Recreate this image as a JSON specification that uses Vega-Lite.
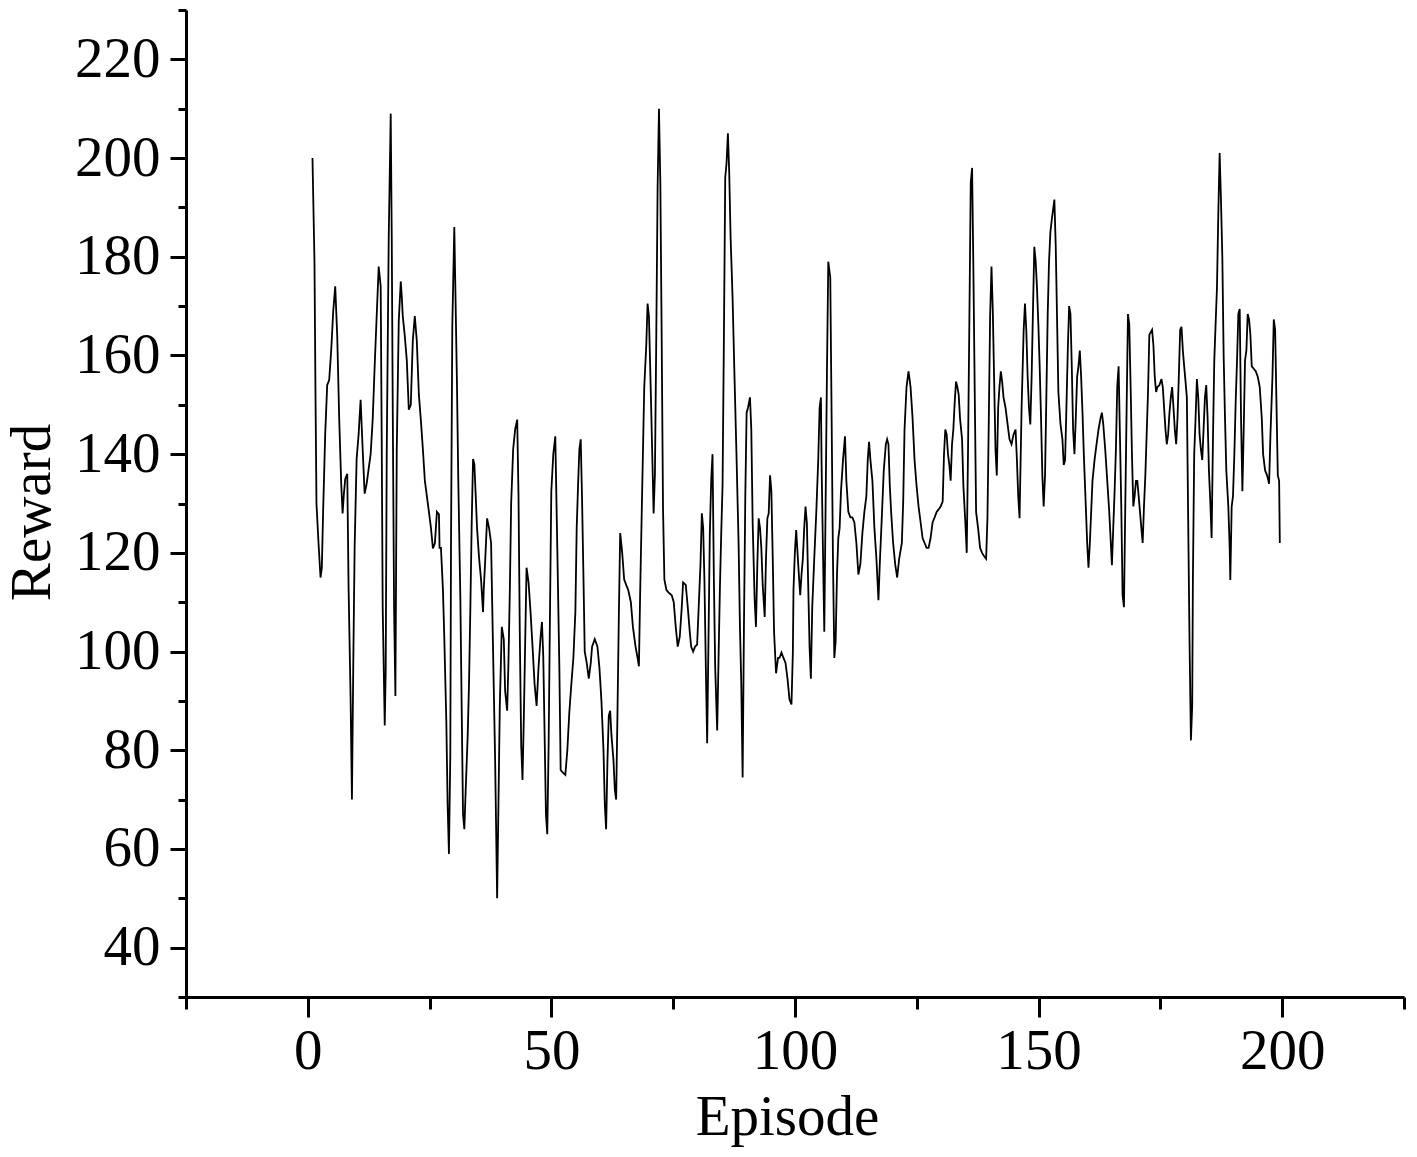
{
  "$schema": "https://vega.github.io/schema/vega-lite/v6.json",
  "width": 1218,
  "height": 987,
  "autosize": {"type": "none"},
  "padding": {"left": 186, "top": 10, "right": 13, "bottom": 160},
  "background": "white",
  "config": {
    "view": {"stroke": null},
    "axis": {
      "grid": false,
      "domainColor": "black",
      "tickColor": "black",
      "labelColor": "black",
      "titleColor": "black",
      "labelFont": "Liberation Serif",
      "titleFont": "Liberation Serif",
      "labelFontSize": 57,
      "titleFontSize": 57,
      "titleFontWeight": "normal",
      "domainWidth": 3,
      "tickWidth": 3,
      "labelOverlap": false,
      "labelFlush": false
    }
  },
  "data": {"values": [
    {"e":0.96,"r":200},{"e":1.37,"r":179},{"e":1.58,"r":152},{"e":1.78,"r":130},{"e":2.2,"r":122},{"e":2.61,"r":115},{"e":2.88,"r":117},{"e":3.16,"r":129},{"e":3.57,"r":144},{"e":3.98,"r":154},{"e":4.39,"r":155},{"e":4.8,"r":161},{"e":5.22,"r":169},{"e":5.63,"r":174},{"e":6.04,"r":164},{"e":6.45,"r":147},{"e":6.86,"r":134},{"e":7.14,"r":128},{"e":7.41,"r":132},{"e":7.69,"r":135},{"e":8.1,"r":136},{"e":8.37,"r":113},{"e":8.79,"r":90},{"e":9.06,"r":70},{"e":9.33,"r":97},{"e":9.61,"r":121},{"e":10.02,"r":139},{"e":10.43,"r":144},{"e":10.84,"r":151},{"e":11.26,"r":141},{"e":11.67,"r":132},{"e":12.08,"r":134},{"e":12.49,"r":137},{"e":12.9,"r":140},{"e":13.32,"r":147},{"e":13.73,"r":158},{"e":14.14,"r":168},{"e":14.55,"r":178},{"e":14.96,"r":174},{"e":15.17,"r":143},{"e":15.37,"r":109},{"e":15.79,"r":85},{"e":15.99,"r":96},{"e":16.2,"r":140},{"e":16.61,"r":184},{"e":17.02,"r":209},{"e":17.23,"r":184},{"e":17.43,"r":150},{"e":17.71,"r":109},{"e":17.98,"r":91},{"e":18.26,"r":141},{"e":18.67,"r":167},{"e":19.08,"r":175},{"e":19.29,"r":172},{"e":19.49,"r":168},{"e":19.9,"r":164},{"e":20.32,"r":159},{"e":20.73,"r":149},{"e":21.14,"r":150},{"e":21.55,"r":163},{"e":21.96,"r":168},{"e":22.37,"r":163},
    {"e":22.8,"r":152},{"e":23.2,"r":147},{"e":23.62,"r":141},{"e":24.03,"r":134.6},{"e":24.44,"r":131.5},{"e":24.86,"r":128.3},{"e":25.27,"r":125.1},{"e":25.68,"r":120.9},{"e":26.09,"r":122},{"e":26.5,"r":128.3},{"e":26.92,"r":127.8},{"e":27.05,"r":121},{"e":27.33,"r":121},{"e":27.74,"r":112.5},{"e":28.01,"r":103},{"e":28.43,"r":86},{"e":28.7,"r":69},{"e":28.97,"r":59},{"e":29.25,"r":79},{"e":29.39,"r":121},{"e":29.66,"r":166},{"e":30.07,"r":186},{"e":30.28,"r":174},{"e":30.62,"r":154},{"e":30.9,"r":134},{"e":31.31,"r":111},{"e":31.58,"r":89},{"e":31.86,"r":67},{"e":32.13,"r":64},{"e":32.41,"r":72},{"e":32.82,"r":83},{"e":33.09,"r":93.5},{"e":33.37,"r":109},{"e":33.64,"r":126},{"e":33.92,"r":139},{"e":34.19,"r":138},{"e":34.47,"r":131.5},{"e":34.74,"r":125},{"e":35.15,"r":119},{"e":35.56,"r":114.6},{"e":35.97,"r":108},{"e":36.11,"r":112.5},{"e":36.39,"r":118},{"e":36.8,"r":127},{"e":37.21,"r":125},{"e":37.62,"r":122},{"e":38.03,"r":100},{"e":38.45,"r":78},{"e":38.86,"r":50},{"e":39.13,"r":69},{"e":39.41,"r":89},{"e":39.82,"r":105},{"e":40.23,"r":102.5},{"e":40.5,"r":92},{"e":40.92,"r":88},{"e":41.19,"r":98},{"e":41.47,"r":112.5},{"e":41.74,"r":130},{"e":42.15,"r":141},{"e":42.56,"r":145},{"e":42.98,"r":147},{"e":43.25,"r":131.5},{"e":43.52,"r":103},{"e":43.8,"r":81},{"e":44.07,"r":74},{"e":44.35,"r":87},{"e":44.62,"r":102},{"e":44.9,"r":117},{"e":45.31,"r":114},{"e":45.72,"r":108},{"e":46.13,"r":101},{"e":46.54,"r":93.5},{"e":46.96,"r":89},
    {"e":47.37,"r":97},{"e":47.78,"r":103},{"e":48.06,"r":106},{"e":48.33,"r":99},{"e":48.61,"r":83},{"e":48.88,"r":67},{"e":49.15,"r":63},{"e":49.43,"r":81},{"e":49.7,"r":107},{"e":49.98,"r":132.5},{"e":50.39,"r":140},{"e":50.8,"r":143.6},{"e":51.21,"r":121},{"e":51.63,"r":97},{"e":51.9,"r":76},{"e":52.31,"r":75.5},{"e":52.86,"r":75},{"e":53.27,"r":80},{"e":53.68,"r":87.7},{"e":54.1,"r":93.5},{"e":54.51,"r":98.7},{"e":54.92,"r":108},{"e":55.19,"r":125},{"e":55.47,"r":133.6},{"e":55.74,"r":141},{"e":56.02,"r":143},{"e":56.29,"r":131},{"e":56.57,"r":115.6},{"e":56.84,"r":100},{"e":57.25,"r":97.7},{"e":57.67,"r":94.5},{"e":58.08,"r":97.7},{"e":58.35,"r":101},{"e":58.9,"r":102.5},{"e":59.45,"r":101},{"e":59.86,"r":96.7},{"e":60.27,"r":90},{"e":60.69,"r":80},{"e":60.96,"r":69},{"e":61.23,"r":64},{"e":61.51,"r":78},{"e":61.78,"r":87},{"e":62.06,"r":88},{"e":62.33,"r":83},{"e":62.74,"r":78},{"e":63.02,"r":72},{"e":63.29,"r":70},{"e":63.57,"r":88},{"e":63.84,"r":107},{"e":64.12,"r":124},{"e":64.53,"r":120},{"e":64.94,"r":114.6},{"e":65.35,"r":113.5},{"e":65.76,"r":112.5},{"e":66.31,"r":110},{"e":66.73,"r":105},{"e":67.27,"r":101},{"e":67.69,"r":98.7},{"e":67.96,"r":97},{"e":68.23,"r":112.5},{"e":68.65,"r":133.6},{"e":69.06,"r":153.6},{"e":69.47,"r":162},{"e":69.74,"r":170.5},{"e":70.02,"r":168},{"e":70.43,"r":151.5},{"e":70.7,"r":140},{"e":70.98,"r":128},{"e":71.25,"r":136},{"e":71.53,"r":164},{"e":71.8,"r":194},{"e":72.08,"r":210},
    {"e":72.36,"r":195},{"e":72.64,"r":163},{"e":72.91,"r":129},{"e":73.19,"r":114.6},{"e":73.6,"r":112.5},{"e":74.01,"r":112},{"e":74.7,"r":111.4},{"e":75.11,"r":110},{"e":75.52,"r":105},{"e":75.93,"r":101},{"e":76.35,"r":103},{"e":76.76,"r":109},{"e":77.03,"r":114},{"e":77.58,"r":113.5},{"e":77.99,"r":109},{"e":78.4,"r":104},{"e":78.68,"r":101},{"e":79.09,"r":100},{"e":79.5,"r":101},{"e":79.91,"r":101.4},{"e":80.19,"r":108},{"e":80.6,"r":117.7},{"e":80.88,"r":128},{"e":81.15,"r":125},{"e":81.42,"r":114},{"e":81.7,"r":96.7},{"e":81.97,"r":81.4},{"e":82.25,"r":103},{"e":82.52,"r":124},{"e":82.8,"r":134.6},{"e":83.07,"r":140},{"e":83.35,"r":114.6},{"e":83.62,"r":96.7},{"e":84.03,"r":84},{"e":84.31,"r":98.7},{"e":84.58,"r":112.5},{"e":84.86,"r":124},{"e":85.13,"r":133.6},{"e":85.41,"r":164},{"e":85.68,"r":196},{"e":85.95,"r":199},{"e":86.23,"r":205},{"e":86.5,"r":197},{"e":86.78,"r":184},{"e":87.19,"r":171.6},{"e":87.6,"r":155},{"e":88.01,"r":139},{"e":88.42,"r":122},{"e":88.7,"r":105},{"e":88.97,"r":93.5},{"e":89.25,"r":74.5},{"e":89.52,"r":105},{"e":89.8,"r":131.5},{"e":90.07,"r":148.4},{"e":90.35,"r":149.4},{"e":90.76,"r":151.5},{"e":91.03,"r":145},{"e":91.31,"r":126},{"e":91.72,"r":110.4},{"e":91.99,"r":105},{"e":92.27,"r":117.7},{"e":92.54,"r":127},{"e":92.82,"r":125},{"e":93.09,"r":121},{"e":93.37,"r":113.5},{"e":93.78,"r":107},{"e":94.05,"r":119},{"e":94.33,"r":127},{"e":94.6,"r":128},{"e":94.88,"r":135.7},{"e":95.15,"r":132.5},{"e":95.43,"r":119},{"e":95.7,"r":104},{"e":96.11,"r":95.6},{"e":96.52,"r":98.7},
    {"e":96.81,"r":98.7},{"e":97.22,"r":99.8},{"e":97.63,"r":98.7},{"e":98.05,"r":97.7},{"e":98.46,"r":94.5},{"e":98.87,"r":90.3},{"e":99.28,"r":89.3},{"e":99.56,"r":99.8},{"e":99.69,"r":112.5},{"e":99.97,"r":120},{"e":100.24,"r":124.6},{"e":100.52,"r":120},{"e":100.79,"r":115.6},{"e":101.07,"r":111.4},{"e":101.34,"r":115.6},{"e":101.61,"r":118.8},{"e":101.89,"r":125},{"e":102.16,"r":129.4},{"e":102.44,"r":126},{"e":102.71,"r":113.5},{"e":102.99,"r":101},{"e":103.26,"r":94.5},{"e":103.54,"r":109},{"e":103.95,"r":118.8},{"e":104.36,"r":128},{"e":104.77,"r":138.8},{"e":105.05,"r":149.4},{"e":105.32,"r":151.5},{"e":105.46,"r":137.8},{"e":105.73,"r":121},{"e":106.01,"r":104},{"e":106.28,"r":129.4},{"e":106.56,"r":156.8},{"e":106.83,"r":179},{"e":107.24,"r":175.8},{"e":107.52,"r":147},{"e":107.79,"r":118.8},{"e":108.07,"r":98.7},{"e":108.34,"r":102},{"e":108.62,"r":115.6},{"e":108.89,"r":123},{"e":109.16,"r":125},{"e":109.44,"r":132.5},{"e":109.85,"r":138.8},{"e":110.26,"r":143.6},{"e":110.54,"r":134.6},{"e":110.95,"r":128.3},{"e":111.36,"r":127.2},{"e":111.77,"r":127.2},{"e":112.18,"r":126.2},{"e":112.6,"r":122},{"e":113.01,"r":115.6},{"e":113.42,"r":117.7},{"e":113.83,"r":124},{"e":114.24,"r":128.3},{"e":114.65,"r":131.5},{"e":114.93,"r":138.8},{"e":115.2,"r":142.5},{"e":115.48,"r":138.8},{"e":115.89,"r":134.6},{"e":116.3,"r":125},{"e":116.71,"r":118.8},{"e":117.13,"r":110.4},{"e":117.4,"r":117.7},{"e":117.81,"r":127},{"e":118.22,"r":136.7},{"e":118.64,"r":142},{"e":118.91,"r":143},{"e":119.18,"r":142},{"e":119.46,"r":133.6},{"e":119.73,"r":128.3},{"e":120.14,"r":122},{"e":120.56,"r":117.7},{"e":120.97,"r":115},{"e":121.38,"r":118.8},
    {"e":121.93,"r":122},{"e":122.21,"r":130.4},{"e":122.48,"r":145},{"e":122.89,"r":153.6},{"e":123.3,"r":156.8},{"e":123.72,"r":153.6},{"e":124.13,"r":147.3},{"e":124.54,"r":138.8},{"e":124.95,"r":133.6},{"e":125.36,"r":129.4},{"e":125.78,"r":126.2},{"e":126.19,"r":123},{"e":126.6,"r":122},{"e":127.01,"r":121},{"e":127.42,"r":121},{"e":127.83,"r":123},{"e":128.25,"r":126.2},{"e":128.66,"r":127.2},{"e":129.07,"r":128.3},{"e":129.48,"r":128.8},{"e":129.89,"r":129.4},{"e":130.31,"r":130.4},{"e":130.58,"r":139.9},{"e":130.85,"r":145},{"e":131.13,"r":144},{"e":131.4,"r":140},{"e":131.68,"r":137.8},{"e":131.95,"r":134.6},{"e":132.23,"r":142},{"e":132.5,"r":145},{"e":132.78,"r":150.5},{"e":133.05,"r":154.7},{"e":133.33,"r":153.6},{"e":133.6,"r":152},{"e":133.87,"r":147.3},{"e":134.29,"r":143},{"e":134.56,"r":133.6},{"e":134.97,"r":126},{"e":135.25,"r":120},{"e":135.52,"r":141},{"e":135.8,"r":168},{"e":136.07,"r":195},{"e":136.35,"r":198},{"e":136.62,"r":177},{"e":136.89,"r":152.6},{"e":137.17,"r":128.3},{"e":137.58,"r":125},{"e":137.99,"r":121},{"e":138.4,"r":120},{"e":138.82,"r":119.3},{"e":139.23,"r":118.8},{"e":139.5,"r":127},{"e":139.78,"r":147},{"e":140.05,"r":168},{"e":140.33,"r":178},{"e":140.6,"r":169},{"e":140.88,"r":154.7},{"e":141.15,"r":141},{"e":141.42,"r":135.7},{"e":141.7,"r":149.4},{"e":141.97,"r":153.6},{"e":142.25,"r":156.8},{"e":142.52,"r":154.7},{"e":142.8,"r":151.5},{"e":143.21,"r":149.4},{"e":143.62,"r":146.2},{"e":144.03,"r":143},{"e":144.44,"r":142},{"e":144.86,"r":144},{"e":145.27,"r":145},{"e":145.54,"r":139},{"e":145.82,"r":131.5},{"e":146.09,"r":127},
    {"e":146.51,"r":149.4},{"e":146.93,"r":165},{"e":147.2,"r":170.5},{"e":147.48,"r":165},{"e":147.75,"r":155.7},{"e":148.02,"r":149.4},{"e":148.3,"r":146},{"e":148.57,"r":155.7},{"e":148.85,"r":169.4},{"e":149.12,"r":182},{"e":149.4,"r":179},{"e":149.67,"r":173.7},{"e":149.95,"r":166.3},{"e":150.22,"r":157.8},{"e":150.5,"r":147.3},{"e":150.77,"r":135.7},{"e":151.04,"r":129.4},{"e":151.32,"r":135.7},{"e":151.59,"r":151.5},{"e":151.87,"r":168.4},{"e":152.14,"r":179},{"e":152.42,"r":185},{"e":152.69,"r":187.4},{"e":152.97,"r":189.5},{"e":153.24,"r":191.6},{"e":153.52,"r":182},{"e":153.79,"r":167.3},{"e":154.06,"r":152.6},{"e":154.48,"r":146.2},{"e":154.89,"r":143},{"e":155.16,"r":137.8},{"e":155.44,"r":138.8},{"e":155.71,"r":149.4},{"e":155.99,"r":161},{"e":156.26,"r":170},{"e":156.54,"r":168.4},{"e":156.81,"r":157.8},{"e":157.08,"r":145},{"e":157.36,"r":140},{"e":157.63,"r":147.3},{"e":157.91,"r":155.7},{"e":158.18,"r":157.8},{"e":158.46,"r":161},{"e":158.73,"r":155.7},{"e":159.01,"r":148.4},{"e":159.28,"r":140},{"e":159.69,"r":129.4},{"e":159.97,"r":122},{"e":160.24,"r":117},{"e":160.52,"r":122},{"e":160.79,"r":128.3},{"e":161.06,"r":134.6},{"e":161.48,"r":138.8},{"e":161.89,"r":142},{"e":162.3,"r":145},{"e":162.71,"r":147.3},{"e":162.99,"r":148.4},{"e":163.26,"r":146.2},{"e":163.67,"r":141},{"e":164.09,"r":134.6},{"e":164.5,"r":128.3},{"e":164.77,"r":123},{"e":165.05,"r":117.5},{"e":165.32,"r":125},{"e":165.6,"r":132.5},{"e":165.87,"r":141},{"e":166.14,"r":153.6},{"e":166.42,"r":157.8},{"e":166.69,"r":144},{"e":166.97,"r":129.4},{"e":167.24,"r":111.4},{"e":167.52,"r":109},{"e":167.79,"r":129.4},{"e":168.07,"r":149.4},{"e":168.34,"r":168.4},{"e":168.61,"r":166.3},{"e":168.89,"r":153.6},{"e":169.16,"r":140},{"e":169.44,"r":129.4},{"e":169.71,"r":131.5},{"e":169.99,"r":134.6},{"e":170.26,"r":134.6},{"e":170.54,"r":131.5},{"e":170.81,"r":128.3},{"e":171.09,"r":125},{"e":171.36,"r":122},{"e":171.63,"r":129.4},{"e":171.91,"r":135.7},{"e":172.18,"r":144},{"e":172.46,"r":152.6},{"e":172.73,"r":164.2},
    {"e":173.29,"r":165.2},{"e":173.57,"r":162},{"e":173.84,"r":155.7},{"e":174.12,"r":152.6},{"e":174.39,"r":153.6},{"e":174.8,"r":154},{"e":175.22,"r":155.2},{"e":175.49,"r":153.6},{"e":175.76,"r":149.4},{"e":176.04,"r":145},{"e":176.31,"r":142},{"e":176.59,"r":144},{"e":176.86,"r":148.4},{"e":177.14,"r":151.5},{"e":177.41,"r":153.6},{"e":177.69,"r":149.4},{"e":177.96,"r":145},{"e":178.24,"r":142},{"e":178.51,"r":147.3},{"e":178.78,"r":155.7},{"e":179.06,"r":165.2},{"e":179.33,"r":165.8},{"e":179.61,"r":161},{"e":179.88,"r":157.8},{"e":180.16,"r":154.7},{"e":180.43,"r":151.5},{"e":180.71,"r":126},{"e":180.98,"r":102},{"e":181.26,"r":82},{"e":181.53,"r":89},{"e":181.67,"r":114.6},{"e":181.94,"r":140},{"e":182.22,"r":147.3},{"e":182.49,"r":155.2},{"e":182.77,"r":151.5},{"e":183.04,"r":144},{"e":183.31,"r":141},{"e":183.59,"r":138.8},{"e":183.86,"r":145},{"e":184.14,"r":151.5},{"e":184.41,"r":154},{"e":184.69,"r":147.3},{"e":184.96,"r":136.7},{"e":185.24,"r":130.4},{"e":185.51,"r":123},{"e":185.79,"r":143},{"e":186.06,"r":159},{"e":186.33,"r":166.3},{"e":186.61,"r":173.7},{"e":186.88,"r":188.4},{"e":187.16,"r":201},{"e":187.43,"r":191.6},{"e":187.71,"r":180},{"e":187.98,"r":160},{"e":188.26,"r":147.3},{"e":188.53,"r":136.7},{"e":188.94,"r":129.4},{"e":189.22,"r":121},{"e":189.35,"r":114.5},{"e":189.63,"r":129.4},{"e":189.9,"r":131.5},{"e":190.18,"r":140},{"e":190.45,"r":150.5},{"e":190.73,"r":159},{"e":191.0,"r":168.4},{"e":191.28,"r":169.4},{"e":191.55,"r":147.3},{"e":191.83,"r":132.5},{"e":192.1,"r":145},{"e":192.37,"r":159},{"e":192.65,"r":161},{"e":192.92,"r":168.4},{"e":193.2,"r":167.3},{"e":193.47,"r":164.2},{"e":193.75,"r":157.8},{"e":194.16,"r":157.3},{"e":194.57,"r":156.8},{"e":194.98,"r":155.7},{"e":195.39,"r":153.6},{"e":195.81,"r":147.3},{"e":196.08,"r":140},{"e":196.49,"r":136.7},{"e":196.9,"r":135.7},{"e":197.31,"r":134},{"e":197.59,"r":144},{"e":198.0,"r":155.7},{"e":198.27,"r":167.3},{"e":198.55,"r":165.2},{"e":198.82,"r":150.5},{"e":199.1,"r":135.7},{"e":199.37,"r":134.6},{"e":199.51,"r":122}
  ]},
  "layer": [
    {
      "mark": {"type": "line", "color": "black", "strokeWidth": 1.8, "clip": true},
      "encoding": {
        "x": {"field": "e", "type": "quantitative", "scale": {"domain": [-25, 225], "nice": false, "zero": false},
          "axis": {"orient": "bottom", "values": [0, 50, 100, 150, 200], "tickSize": 20, "labelPadding": 6, "title": "Episode", "titlePadding": 10, "titleX": 601}},
        "y": {"field": "r", "type": "quantitative", "scale": {"domain": [30, 230], "nice": false, "zero": false},
          "axis": {"orient": "left", "values": [40, 60, 80, 100, 120, 140, 160, 180, 200, 220], "tickSize": 16, "labelPadding": 10, "title": "Reward", "titlePadding": 13, "titleY": 502}}
      }
    },
    {
      "mark": {"type": "line", "opacity": 0},
      "encoding": {
        "x": {"field": "e", "type": "quantitative", "scale": {"domain": [-25, 225], "nice": false, "zero": false},
          "axis": {"orient": "bottom", "values": [-25, 25, 75, 125, 175, 225], "tickSize": 12, "labels": false, "domain": false, "title": null}},
        "y": {"field": "r", "type": "quantitative", "scale": {"domain": [30, 230], "nice": false, "zero": false},
          "axis": {"orient": "left", "values": [30, 50, 70, 90, 110, 130, 150, 170, 190, 210, 230], "tickSize": 8, "labels": false, "domain": false, "title": null}}
      }
    }
  ],
  "resolve": {"axis": {"x": "independent", "y": "independent"}}
}
